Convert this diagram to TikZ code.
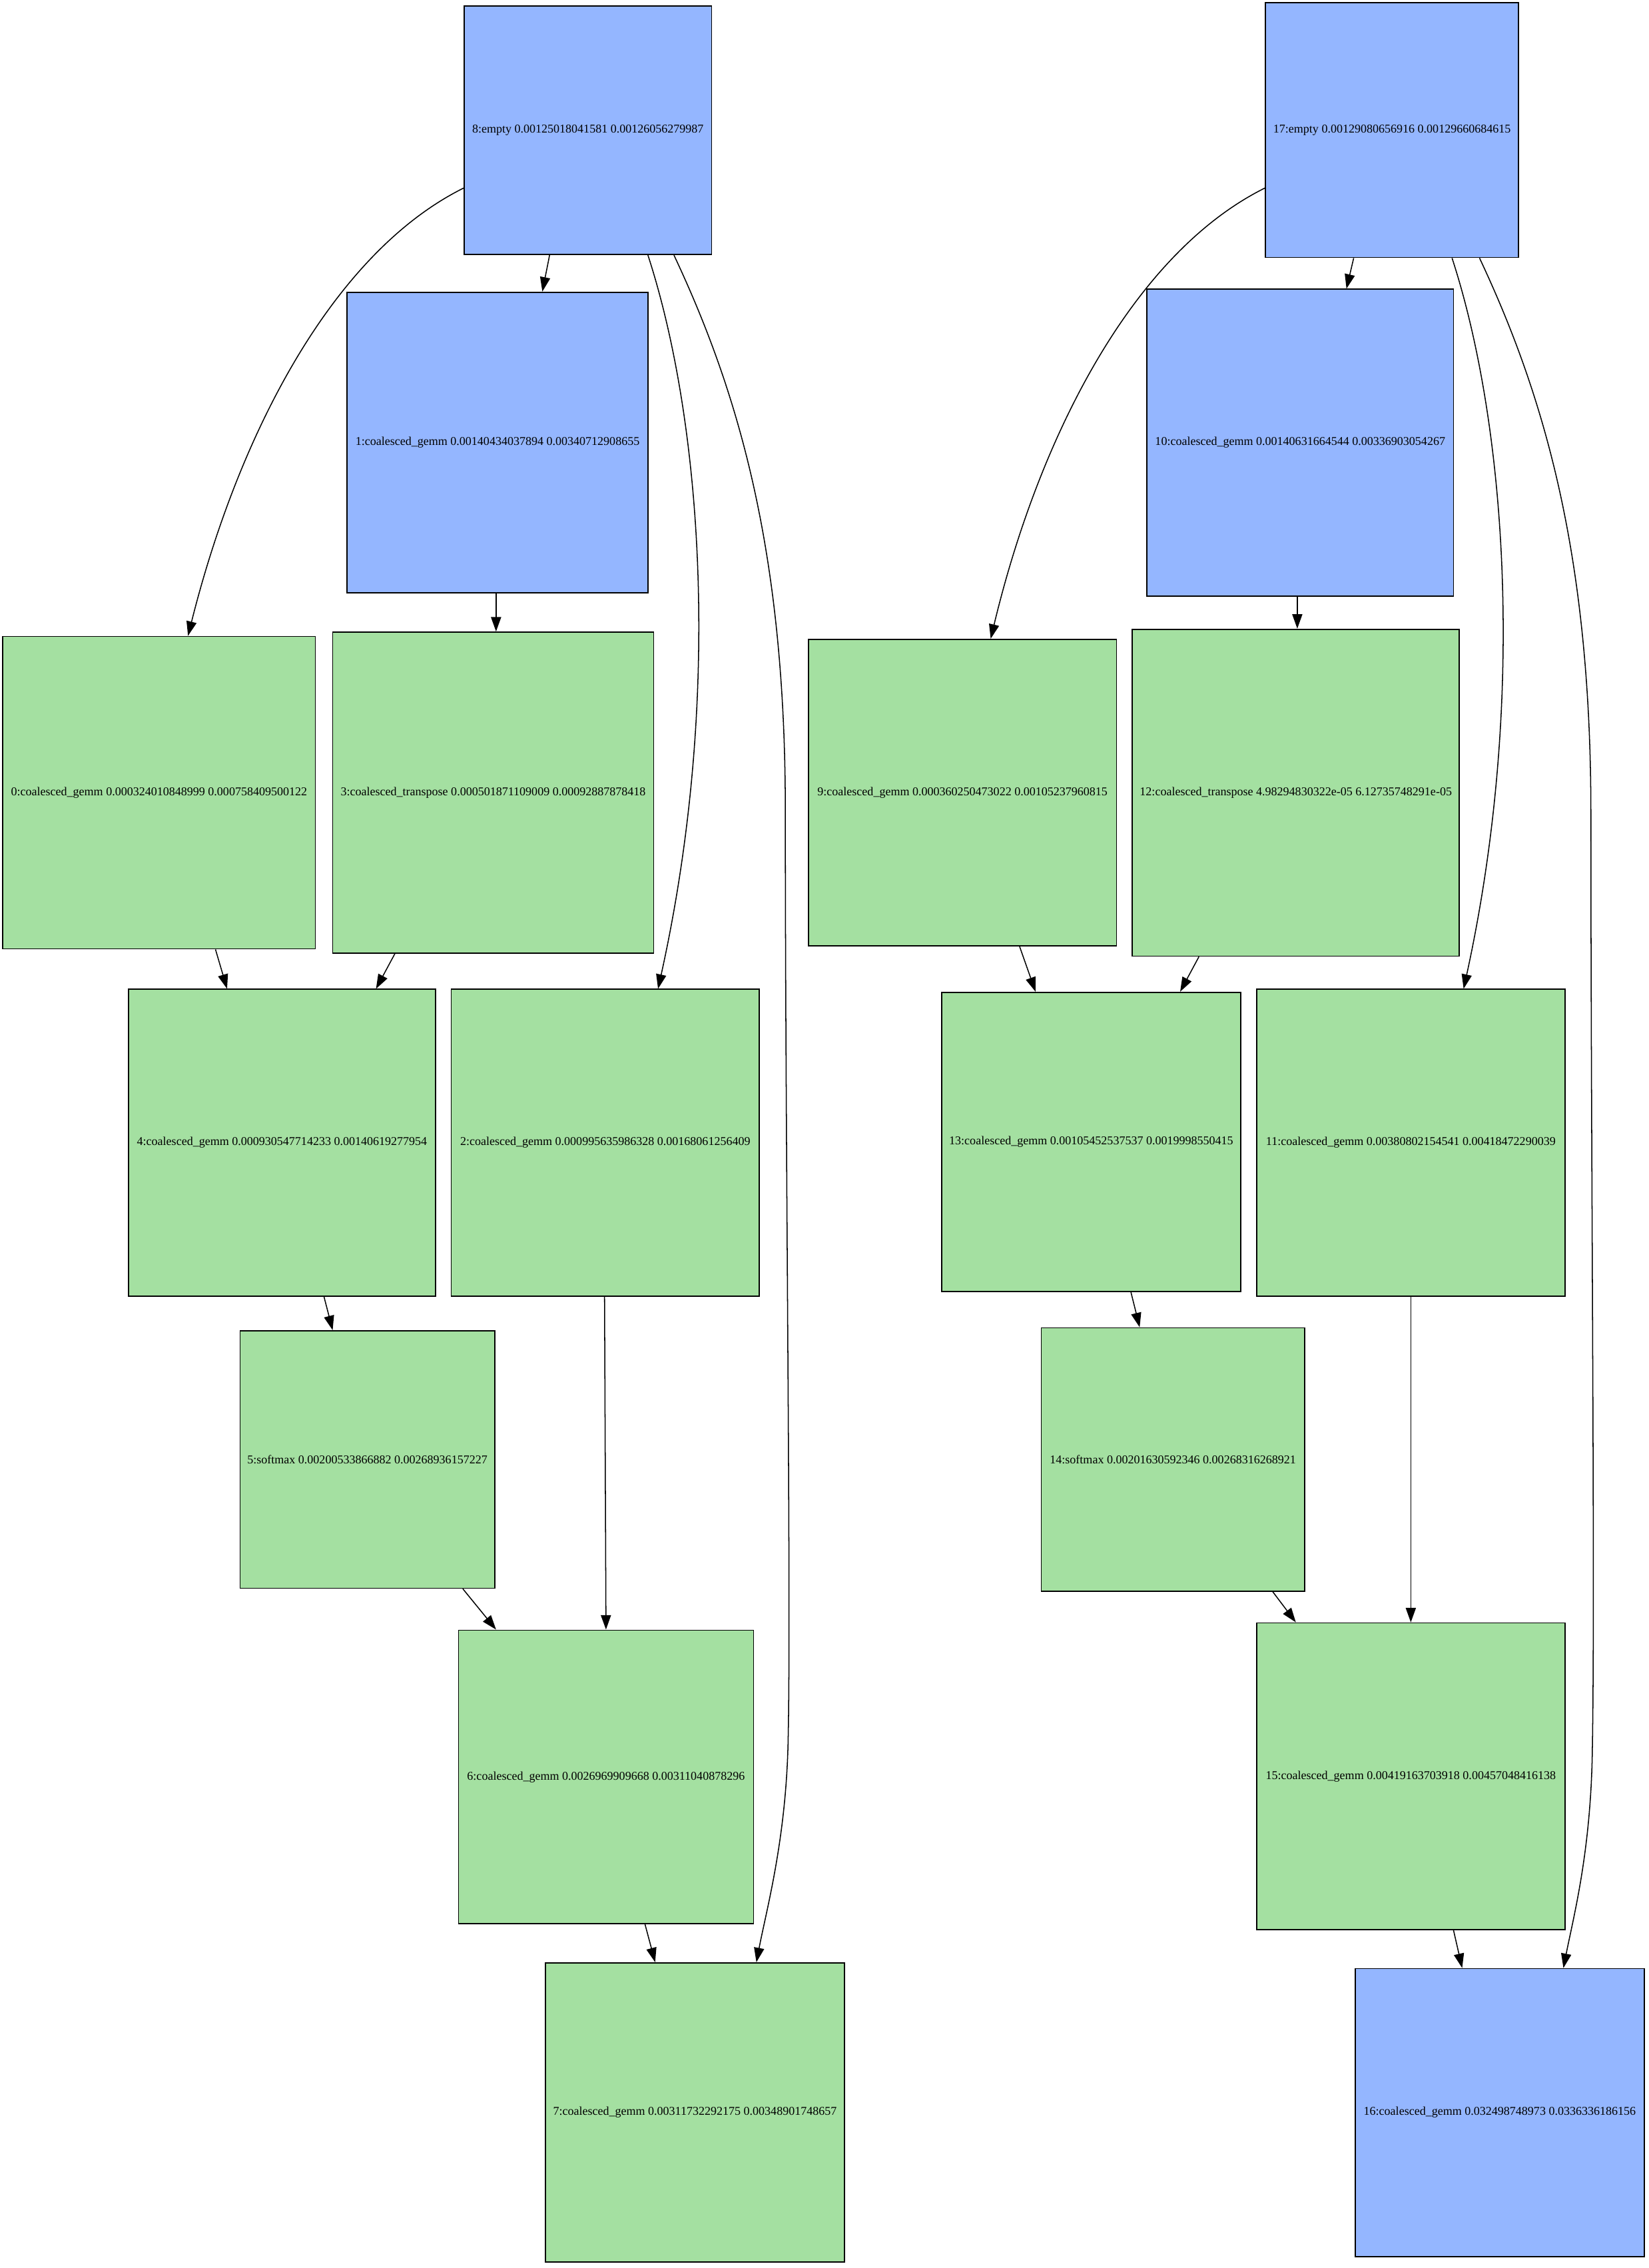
\documentclass[tikz,border=0pt]{standalone}
\usepackage{fontspec}
\setmainfont{Liberation Serif}
\usetikzlibrary{arrows.meta,calc}
\definecolor{nblue}{RGB}{148,182,255}
\definecolor{ngreen}{RGB}{164,224,161}
\tikzset{
  box/.style={draw=black, line width=0.8pt, rectangle, inner sep=0pt, font=\fontsize{8.3}{10}\selectfont},
  bluebox/.style={box, fill=nblue},
  greenbox/.style={box, fill=ngreen},
  edge/.style={draw=black, line width=0.7pt, -{Triangle[length=10pt,width=7pt]}},
}
\begin{document}
\begin{tikzpicture}[x=1pt,y=-1pt]
\useasboundingbox (0,0) rectangle (1140,1568);
% left graph
\node[bluebox, minimum width=171pt, minimum height=172pt] (n8) at (406.5,90) {8:empty 0.00125018041581 0.00126056279987};
\node[bluebox, minimum width=208pt, minimum height=208pt] (n1) at (344,306) {1:coalesced\_gemm 0.00140434037894 0.00340712908655};
\node[greenbox, minimum width=216pt, minimum height=216pt] (n0) at (110,548) {0:coalesced\_gemm 0.000324010848999 0.000758409500122};
\node[greenbox, minimum width=222pt, minimum height=222pt] (n3) at (341,548) {3:coalesced\_transpose 0.000501871109009 0.00092887878418};
\node[greenbox, minimum width=212pt, minimum height=212pt] (n4) at (195,790) {4:coalesced\_gemm 0.000930547714233 0.00140619277954};
\node[greenbox, minimum width=213pt, minimum height=212pt] (n2) at (418.5,790) {2:coalesced\_gemm 0.000995635986328 0.00168061256409};
\node[greenbox, minimum width=176pt, minimum height=178pt] (n5) at (254,1009) {5:softmax 0.00200533866882 0.00268936157227};
\node[greenbox, minimum width=204pt, minimum height=203pt] (n6) at (419,1228.5) {6:coalesced\_gemm 0.0026969909668 0.00311040878296};
\node[greenbox, minimum width=207pt, minimum height=207pt] (n7) at (480.5,1460.5) {7:coalesced\_gemm 0.00311732292175 0.00348901748657};
% right graph
\node[bluebox, minimum width=175pt, minimum height=176pt] (n17) at (962.5,90) {17:empty 0.00129080656916 0.00129660684615};
\node[bluebox, minimum width=212pt, minimum height=212pt] (n10) at (899,306) {10:coalesced\_gemm 0.00140631664544 0.00336903054267};
\node[greenbox, minimum width=213pt, minimum height=212pt] (n9) at (665.5,548) {9:coalesced\_gemm 0.000360250473022 0.00105237960815};
\node[greenbox, minimum width=226pt, minimum height=226pt] (n12) at (896,548) {12:coalesced\_transpose 4.98294830322e-05 6.12735748291e-05};
\node[greenbox, minimum width=207pt, minimum height=207pt] (n13) at (754.5,789.5) {13:coalesced\_gemm 0.00105452537537 0.0019998550415};
\node[greenbox, minimum width=213pt, minimum height=212pt] (n11) at (975.5,790) {11:coalesced\_gemm 0.00380802154541 0.00418472290039};
\node[greenbox, minimum width=182pt, minimum height=182pt] (n14) at (811,1009) {14:softmax 0.00201630592346 0.00268316268921};
\node[greenbox, minimum width=213pt, minimum height=212pt] (n15) at (975.5,1228) {15:coalesced\_gemm 0.00419163703918 0.00457048416138};
\node[bluebox, minimum width=200pt, minimum height=199pt] (n16) at (1037,1460.5) {16:coalesced\_gemm 0.032498748973 0.0336336186156};
% left edges
\draw[edge] ([xshift=-26.5pt]n8.south) -- ([xshift=31pt]n1.north);
\draw[edge] ([yshift=-40pt]n8.west) .. controls (230,175) and (165,300) .. ([xshift=20pt]n0.north);
\draw[edge] ([xshift=41.5pt]n8.south) .. controls (485,290) and (500,480) .. ([xshift=36.5pt]n2.north);
\draw[edge] ([xshift=59.5pt]n8.south) .. controls (510,270) and (543,380) .. (543,560)
  .. controls (543,800) and (547,1100) .. (545,1200)
  .. controls (544,1270) and (530,1320) .. ([xshift=42.5pt]n7.north);
\draw[edge] ([xshift=-1pt]n1.south) -- ([xshift=2pt]n3.north);
\draw[edge] ([xshift=39pt]n0.south) -- ([xshift=-38pt]n4.north);
\draw[edge] ([xshift=-68pt]n3.south) -- ([xshift=65pt]n4.north);
\draw[edge] ([xshift=29pt]n4.south) -- ([xshift=-24pt]n5.north);
\draw[edge] ([xshift=66pt]n5.south) -- ([xshift=-76pt]n6.north);
\draw[edge] ([xshift=-0.5pt]n2.south) -- (n6.north);
\draw[edge] ([xshift=27pt]n6.south) -- ([xshift=-27.5pt]n7.north);
% right edges
\draw[edge] ([xshift=-26.5pt]n17.south) -- ([xshift=32pt]n10.north);
\draw[edge] ([yshift=-40pt]n17.west) .. controls (784,175) and (719,300) .. ([xshift=19.5pt]n9.north);
\draw[edge] ([xshift=41.5pt]n17.south) .. controls (1041,292) and (1056,482) .. ([xshift=36.5pt]n11.north);
\draw[edge] ([xshift=60.5pt]n17.south) .. controls (1067,272) and (1100,382) .. (1100,562)
  .. controls (1100,800) and (1103,1100) .. (1101,1210)
  .. controls (1100,1280) and (1088,1325) .. ([xshift=44pt]n16.north);
\draw[edge] ([xshift=-2pt]n10.south) -- ([xshift=1pt]n12.north);
\draw[edge] ([xshift=39.5pt]n9.south) -- ([xshift=-38.5pt]n13.north);
\draw[edge] ([xshift=-67pt]n12.south) -- ([xshift=61.5pt]n13.north);
\draw[edge] ([xshift=27.5pt]n13.south) -- ([xshift=-23pt]n14.north);
\draw[edge] ([xshift=69pt]n14.south) -- ([xshift=-79.5pt]n15.north);
\draw[edge] (n11.south) -- (n15.north);
\draw[edge] ([xshift=29.5pt]n15.south) -- ([xshift=-26pt]n16.north);
\end{tikzpicture}
\end{document}
